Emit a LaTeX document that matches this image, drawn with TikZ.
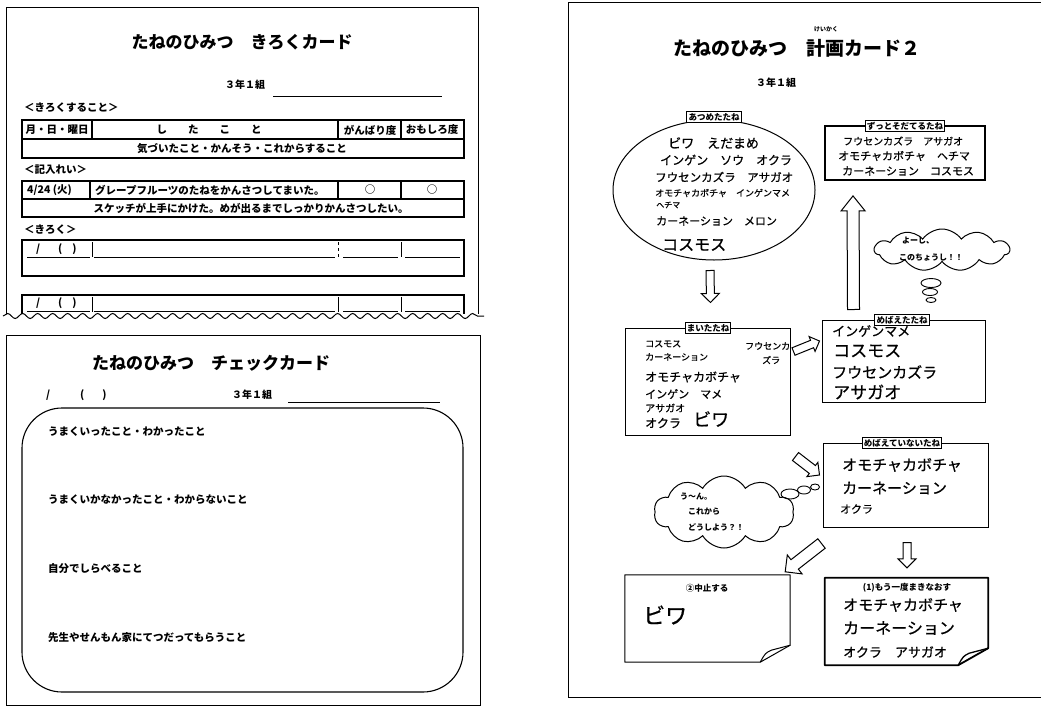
\documentclass[tikz,border=0pt]{standalone}
\usepackage{fontspec}
\newfontfamily\jp{Noto Sans CJK JP}
\newfontfamily\hw[FakeBold=0.7]{Noto Sans CJK JP}
\usetikzlibrary{shapes.symbols,shapes.geometric,calc,decorations.pathmorphing}
\newcommand\myfs[1]{\fontsize{#1}{#1}\selectfont}
\newcommand\blockarrow[5]{%
  \coordinate (#1-#2-n) at ($(#2)!#5!(#1)$);
  \draw[barrow] ($(#1)!#3!90:(#2)$) -- ($(#1-#2-n)!#3!90:(#2)$) -- ($(#1-#2-n)!#4!90:(#2)$) -- (#2) -- ($(#1-#2-n)!#4!-90:(#2)$) -- ($(#1-#2-n)!#3!-90:(#2)$) -- ($(#1)!#3!-90:(#2)$) -- cycle;}
\tikzset{
  card/.style={draw, line width=1pt},
  tbl/.style={line width=2pt},
  thinl/.style={line width=1pt},
  ptxt/.style={font=\jp\bfseries\myfs{10.5}, inner sep=0pt},
  ptitle/.style={font=\jp\bfseries\myfs{17}, inner sep=0pt},
  hand/.style={font=\hw, inner sep=0pt, anchor=west},
  lab/.style={draw, fill=white, line width=1pt, font=\jp\bfseries\myfs{8.5}, inner sep=1.6pt},
  plab/.style={font=\jp\bfseries\myfs{8.5}, inner sep=0pt},
  dbox/.style={draw, line width=1pt, inner sep=0pt},
  tbox/.style={draw, line width=1.8pt, inner sep=0pt},
  cloudtxt/.style={font=\jp\bfseries\myfs{8}, inner sep=0pt, anchor=west},
  bubble/.style={draw, ellipse, line width=0.9pt, inner sep=0pt},
  barrow/.style={draw, line width=1pt, fill=white, line join=miter},
}
\begin{document}
\begin{tikzpicture}[x=1pt,y=-1pt]
\useasboundingbox (0,0) rectangle (1041,707);
\fill[white] (0,0) rectangle (1041,707);

% ================= left top card =================
\draw[card] (6,318) -- (6,7) -- (478,7) -- (478,318);
\node[ptitle] (t1) at (242,42) {たねのひみつ　きろくカード};
\node[ptxt, font=\jp\bfseries\myfs{10}] (cls1) at (245,85) {３年１組};
\draw[thinl] (273,96) -- (442,96);
\node[ptxt, anchor=west] (h1) at (24,108) {＜きろくすること＞};
% table 1
\draw[tbl] (22,120) rectangle (464,158);
\draw[line width=1.3pt] (22,139) -- (464,139);
\foreach \x in {92,338,401} \draw[line width=1.3pt] (\x,120) -- (\x,139);
\node[ptxt] (c11) at (57,130) {月・日・曜日};
\node[ptxt] (c12) at (209,130) {し　　た　　こ　　と};
\node[ptxt] (c13) at (370,130) {がんばり度};
\node[ptxt] (c14) at (432,130) {おもしろ度};
\node[ptxt] (c15) at (242,149) {気づいたこと・かんそう・これからすること};
\node[ptxt, anchor=west] (h2) at (24,170) {＜記入れい＞};
% table 2
\draw[tbl] (22,181) rectangle (464,217);
\draw[line width=1.3pt] (22,199) -- (464,199);
\foreach \x in {90,338,401} \draw[line width=1.3pt] (\x,181) -- (\x,199);
\node[ptxt, anchor=west] (c21) at (27,190) {4/24 (火)};
\node[ptxt, anchor=west] (c22) at (95,190) {グレープフルーツのたねをかんさつしてまいた。};
\node[ptxt] (c23) at (370,190) {○};
\node[ptxt] (c24) at (432,190) {○};
\node[ptxt] (c25) at (251,208) {スケッチが上手にかけた。めが出るまでしっかりかんさつしたい。};
\node[ptxt, anchor=west] (h3) at (24,230) {＜きろく＞};
% table 3
\draw[tbl] (22,240) rectangle (464,276);
\foreach \x in {92,401} \draw[thinl] (\x,242) -- (\x,257);
\draw[thinl, dashed] (338,242) -- (338,257);
\foreach \a/\b in {27/90,94/335,343/398,405/460} \draw[thinl] (\a,257) -- (\b,257);
\node[ptxt, anchor=west] (c31) at (36,249) {/\hspace{18pt}(\hspace{10pt})};
% table 4
\draw[tbl] (22,318) -- (22,295) -- (464,295) -- (464,318);
\foreach \x in {92,338,401} \draw[thinl] (\x,297) -- (\x,312);
\foreach \a/\b in {27/90,94/335,343/398,405/460} \draw[thinl] (\a,311) -- (\b,311);
\node[ptxt, anchor=west] (c41) at (36,303) {/\hspace{18pt}(\hspace{10pt})};
% wavy cut
\fill[white] (3,314) rectangle (484,330);
\draw[line width=1pt, decorate, decoration={snake, segment length=15pt, amplitude=2.5pt}] (3,316) -- (484,316);

% ================= left bottom card =================
\draw[card] (6,335) rectangle (480,705);
\node[ptitle] (t2) at (211,363) {たねのひみつ　チェックカード};
\node[ptxt, anchor=west] (d2) at (46,395) {/\hspace{30pt}(\hspace{18pt})};
\node[ptxt, font=\jp\bfseries\myfs{10}] (cls2) at (252,395) {３年１組};
\draw[thinl] (288,402) -- (440,402);
\draw[line width=1.1pt, rounded corners=40pt] (22,408) rectangle (463,692);
\node[ptxt, anchor=west] (q1) at (48,432) {うまくいったこと・わかったこと};
\node[ptxt, anchor=west] (q2) at (48,500) {うまくいかなかったこと・わからないこと};
\node[ptxt, anchor=west] (q3) at (48,569) {自分でしらべること};
\node[ptxt, anchor=west] (q4) at (48,638) {先生やせんもん家にてつだってもらうこと};

% ================= right card =================
\draw[card] (1041,2) -- (568,2) -- (568,697) -- (1041,697);
\node[ptitle, font=\jp\bfseries\myfs{19}] (t3) at (797,48) {たねのひみつ　計画カード２};
\node[ptxt, font=\jp\bfseries\myfs{6}] (ruby) at (826,29) {けいかく};
\node[ptxt, font=\jp\bfseries\myfs{10}] (cls3) at (776,83) {３年１組};

% collected seeds
\node[ellipse, draw, line width=1pt, minimum width=202pt, minimum height=140pt] (seeds) at (714,190) {};
\node[lab] (lab1) at (714,117) {あつめたたね};
\node[hand] (e1) at (668,143) {\myfs{13}ビワ　えだまめ};
\node[hand] (e2) at (660,160) {\myfs{12}インゲン　ソウ　オクラ};
\node[hand] (e3) at (655,177) {\myfs{11.5}フウセンカズラ　アサガオ};
\node[hand] (e4) at (655,193) {\myfs{9}オモチャカボチャ　インゲンマメ};
\node[hand] (e5) at (656,205) {\myfs{8}ヘチマ};
\node[hand] (e6) at (656,221) {\myfs{11}カーネーション　メロン};
\node[hand] (e7) at (662,245) {\myfs{16}コスモス};

% keep growing
\node[tbox, minimum width=160pt, minimum height=54pt] (keep) at (905,153) {};
\node[lab] (lab2) at (905,126) {ずっとそだてるたね};
\node[hand] (k1) at (843,141) {\myfs{10}フウセンカズラ　アサガオ};
\node[hand] (k2) at (838,156) {\myfs{11}オモチャカボチャ　ヘチマ};
\node[hand] (k3) at (842,171) {\myfs{11}カーネーション　コスモス};

% sown
\node[dbox, minimum width=165pt, minimum height=107pt] (sown) at (707.5,381.5) {};
\node[lab] (lab3) at (708,328) {まいたたね};
\node[hand] (s1) at (645,344) {\myfs{9}コスモス};
\node[hand] (s2) at (645,357) {\myfs{9}カーネーション};
\node[hand] (s3) at (745,346) {\myfs{9}フウセンカ};
\node[hand] (s4) at (762,360) {\myfs{9}ズラ};
\node[hand] (s5) at (645,377) {\myfs{12}オモチャカボチャ};
\node[hand] (s6) at (645,394) {\myfs{11}インゲン　マメ};
\node[hand] (s7) at (645,408) {\myfs{10}アサガオ};
\node[hand] (s8) at (645,423) {\myfs{12}オクラ};
\node[hand] (s9) at (693,419) {\myfs{18}ビワ};

% sprouted
\node[dbox, minimum width=163pt, minimum height=82pt] (sprout) at (903.5,361) {};
\node[hand] (m1) at (832,331) {\myfs{13}インゲンマメ};
\node[lab] (lab4) at (902,320) {めばえたたね};
\node[hand] (m2) at (833,351) {\myfs{17}コスモス};
\node[hand] (m3) at (832,372) {\myfs{15}フウセンカズラ};
\node[hand] (m4) at (833,392) {\myfs{17}アサガオ};

% not sprouted
\node[dbox, minimum width=165pt, minimum height=84pt] (nosprout) at (905.5,485) {};
\node[lab] (lab5) at (902,443) {めばえていないたね};
\node[hand] (n1) at (842,465) {\myfs{15}オモチャカボチャ};
\node[hand] (n2) at (842,488) {\myfs{15}カーネーション};
\node[hand] (n3) at (840,509) {\myfs{11}オクラ};

% stop
\node[inner sep=0pt, minimum width=165pt, minimum height=87pt] (stop) at (707.5,618.5) {};
\draw[line width=1pt, line join=round] (stop.north west) -- (stop.north east) -- ($(stop.south east)+(0,-17)$) -- ($(stop.south east)+(-30,0)$) -- (stop.south west) -- cycle;
\draw[line width=1pt, line join=round] ($(stop.south east)+(-30,0)$) .. controls ($(stop.south east)+(-25,-9)$) .. ($(stop.south east)+(-19,-12)$) -- ($(stop.south east)+(0,-17)$);
\node[plab] (pl) at (707,588) {②中止する};
\node[hand] (p1) at (643,615) {\myfs{22}ビワ};

% sow again
\node[inner sep=0pt, minimum width=163pt, minimum height=87pt] (again) at (906.5,621.5) {};
\draw[line width=1.8pt, line join=round] (again.north west) -- (again.north east) -- ($(again.south east)+(0,-17)$) -- ($(again.south east)+(-30,0)$) -- (again.south west) -- cycle;
\draw[line width=1.3pt, line join=round] ($(again.south east)+(-30,0)$) .. controls ($(again.south east)+(-25,-9)$) .. ($(again.south east)+(-19,-12)$) -- ($(again.south east)+(0,-17)$);
\node[plab] (al) at (907,588) {(1)もう一度まきなおす};
\node[hand] (g1) at (843,605) {\myfs{15}オモチャカボチャ};
\node[hand] (g2) at (843,628) {\myfs{16}カーネーション};
\node[hand] (g3) at (843,652) {\myfs{13}オクラ　アサガオ};

% clouds
\node[cloud, draw, line width=1pt, cloud puffs=11, cloud puff arc=110, aspect=3.2, minimum width=135pt, minimum height=42pt, inner sep=0pt] (c1) at (942,250) {};
\node[cloudtxt] (c1a) at (902,241) {よーし、};
\node[cloudtxt] (c1b) at (899,258) {このちょうし！！};
\node[bubble, minimum width=20pt, minimum height=9pt] (b1a) at (931,283) {};
\node[bubble, minimum width=15pt, minimum height=7pt] (b1b) at (930,292) {};
\node[bubble, minimum width=10pt, minimum height=5pt] (b1c) at (931,300) {};

\node[cloud, draw, line width=1pt, cloud puffs=10, cloud puff arc=120, aspect=2, minimum width=140pt, minimum height=72pt, inner sep=0pt] (c2) at (724,512) {};
\node[cloudtxt] (c2a) at (680,497) {う〜ん。};
\node[cloudtxt] (c2b) at (688,512) {これから};
\node[cloudtxt] (c2c) at (688,527) {どうしよう？！};
\node[bubble, minimum width=18pt, minimum height=10pt] (b2a) at (790,494) {};
\node[bubble, minimum width=13pt, minimum height=8pt] (b2b) at (804,490) {};
\node[bubble, minimum width=9pt, minimum height=6pt] (b2c) at (815,487) {};

% block arrows
\coordinate (a1t) at ($(seeds.south)+(-4,10)$);
\coordinate (a1h) at ($(sown.north)+(3,-25)$);
\blockarrow{a1t}{a1h}{4pt}{9pt}{9pt}
\coordinate (a2t) at ($(sown.east)+(3,-30)$);
\coordinate (a2h) at ($(sprout.west)+(-2,-20)$);
\blockarrow{a2t}{a2h}{4pt}{8pt}{8pt}
\coordinate (a3t) at ($(sown.east)+(5,75)$);
\coordinate (a3h) at ($(nosprout.west)+(-3,-10)$);
\blockarrow{a3t}{a3h}{5pt}{9pt}{9pt}
\coordinate (a4t) at ($(sprout.north)+(-50,-10)$);
\coordinate (a4h) at ($(keep.south)+(-52,15)$);
\blockarrow{a4t}{a4h}{6pt}{12pt}{15pt}
\coordinate (a5t) at ($(nosprout.south west)+(-1,16)$);
\coordinate (a5h) at ($(stop.north east)+(-5,-3)$);
\blockarrow{a5t}{a5h}{6pt}{12pt}{12pt}
\coordinate (a6t) at ($(nosprout.south)+(1.5,15)$);
\coordinate (a6h) at ($(again.north)+(0.5,-10)$);
\blockarrow{a6t}{a6h}{4pt}{9pt}{9pt}
\end{tikzpicture}
\end{document}
